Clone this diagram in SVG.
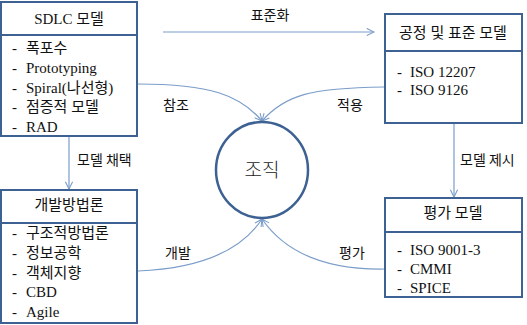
<svg xmlns="http://www.w3.org/2000/svg" width="527" height="325" viewBox="0 0 527 325">
<defs>
<style>
.box{fill:#fff;stroke:#3e6193;stroke-width:2}
.t{font-family:"Liberation Serif","Noto Sans CJK KR",serif;font-size:15px;fill:#111}
.ti{font-family:"Liberation Serif","Noto Sans CJK KR",serif;font-size:15px;fill:#111;text-anchor:middle}
.lb{font-family:"Noto Sans CJK KR","Liberation Sans",sans-serif;font-size:14px;fill:#111}
.c{fill:none;stroke:#7b9dc9;stroke-width:1.2}
</style>
<marker id="ah" viewBox="0 0 10 10" refX="9" refY="5" markerWidth="9" markerHeight="9" markerUnits="userSpaceOnUse" orient="auto">
<path d="M1,1 L9,5 L1,9" fill="none" stroke="#7b9dc9" stroke-width="1.2"/>
</marker>
</defs>
<rect width="527" height="325" fill="#fff"/>
<g id="connectors">
<line class="c" x1="163" y1="32" x2="374" y2="32" marker-end="url(#ah)"/>
<line class="c" x1="69" y1="137" x2="69" y2="189" marker-end="url(#ah)"/>
<line class="c" x1="454" y1="124" x2="454" y2="197" marker-end="url(#ah)"/>
<path class="c" d="M138,84 C210,84 240,95 262,121" marker-end="url(#ah)"/>
<path class="c" d="M384,87 C310,88 285,95 262,121" marker-end="url(#ah)"/>
<path class="c" d="M138,271 C210,268 245,245 262,219" marker-end="url(#ah)"/>
<path class="c" d="M384,269 C315,270 280,245 262,219" marker-end="url(#ah)"/>
<text class="lb" x="270" y="20" text-anchor="middle">표준화</text>
<text class="lb" x="77" y="165">모델 채택</text>
<text class="lb" x="460" y="165">모델 제시</text>
<text class="lb" x="176" y="110" text-anchor="middle">참조</text>
<text class="lb" x="350" y="110" text-anchor="middle">적용</text>
<text class="lb" x="178" y="258" text-anchor="middle">개발</text>
<text class="lb" x="352" y="258" text-anchor="middle">평가</text>
</g>
<g id="sdlc">
<rect class="box" x="1" y="2" width="136" height="134"/>
<line class="box" x1="1" y1="35" x2="137" y2="35"/>
<text class="ti" x="69" y="24">SDLC 모델</text>
<text class="t" x="12" y="53">-<tspan x="26">폭포수</tspan></text>
<text class="t" x="12" y="73">-<tspan x="26">Prototyping</tspan></text>
<text class="t" x="12" y="93">-<tspan x="26">Spiral(나선형)</tspan></text>
<text class="t" x="12" y="112">-<tspan x="26">점증적 모델</tspan></text>
<text class="t" x="12" y="132">-<tspan x="26">RAD</tspan></text>
</g>
<g id="process">
<rect class="box" x="385" y="14" width="137" height="109"/>
<line class="box" x1="385" y1="51" x2="522" y2="51"/>
<text class="ti" x="453" y="38">공정 및 표준 모델</text>
<text class="t" x="397" y="77">-<tspan x="410">ISO 12207</tspan></text>
<text class="t" x="397" y="95">-<tspan x="410">ISO 9126</tspan></text>
</g>
<g id="method">
<rect class="box" x="1" y="190" width="136" height="133"/>
<line class="box" x1="1" y1="223" x2="137" y2="223"/>
<text class="ti" x="69" y="210">개발방법론</text>
<text class="t" x="12" y="238">-<tspan x="26">구조적방법론</tspan></text>
<text class="t" x="12" y="258">-<tspan x="26">정보공학</tspan></text>
<text class="t" x="12" y="278">-<tspan x="26">객체지향</tspan></text>
<text class="t" x="12" y="297">-<tspan x="26">CBD</tspan></text>
<text class="t" x="12" y="317">-<tspan x="26">Agile</tspan></text>
</g>
<g id="eval">
<rect class="box" x="385" y="198" width="137" height="99"/>
<line class="box" x1="385" y1="232" x2="522" y2="232"/>
<text class="ti" x="453" y="218">평가 모델</text>
<text class="t" x="397" y="255">-<tspan x="410">ISO 9001-3</tspan></text>
<text class="t" x="397" y="274">-<tspan x="410">CMMI</tspan></text>
<text class="t" x="397" y="293">-<tspan x="410">SPICE</tspan></text>
</g>
<g id="org">
<ellipse cx="262" cy="170" rx="46" ry="48" fill="#fff" stroke="#3e6193" stroke-width="2.5"/>
<text x="262" y="177" text-anchor="middle" font-family="'Noto Sans CJK KR',sans-serif" font-size="19" font-weight="300" fill="#222">조직</text>
</g>
</svg>
